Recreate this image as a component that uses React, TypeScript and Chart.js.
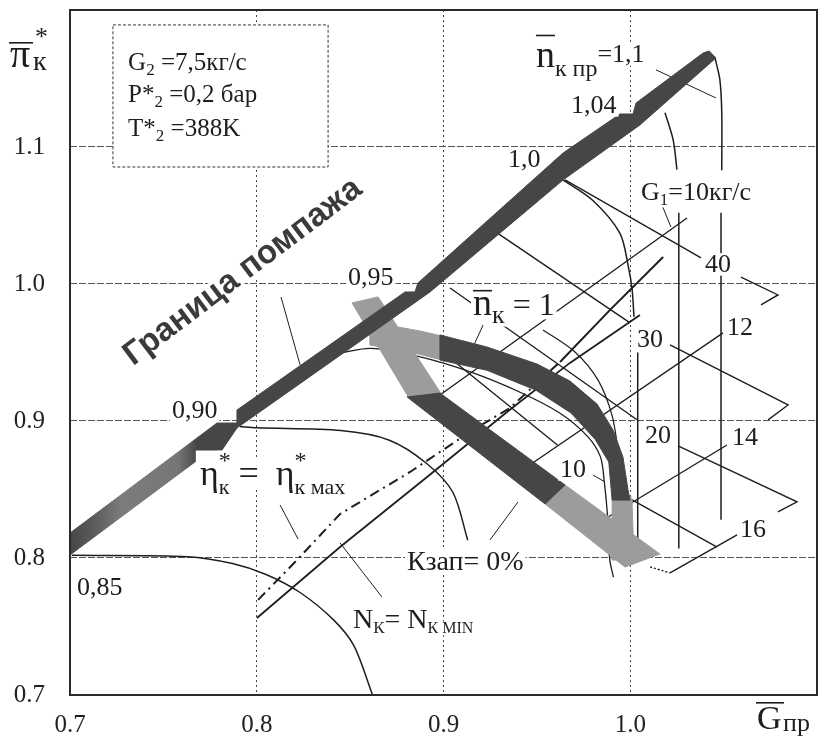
import React, { useEffect, useRef } from 'react';
import { Chart, registerables } from 'chart.js';

Chart.register(...registerables);

const SERIF = '"Liberation Serif", "Times New Roman", serif';
const SANS = '"Liberation Sans", Arial, sans-serif';
const INK = '#1e1e1e';
const DARK = '#464646';
const LIGHT = '#9c9c9c';

// ---------- axes ----------
const xTickValues = [0.7, 0.8, 0.9, 1.0];
const xTickLabels = ['0.7', '0.8', '0.9', '1.0'];
const yTickValues = [0.7, 0.8, 0.9, 1.0, 1.1];
const yTickLabels = ['0.7', '0.8', '0.9', '1.0', '1.1'];

type XY = [number, number | null];

// ---------- thick bands (closed outlines, [G, pi]) ----------
const surgeBand: XY[] = [
  [0.7, 0.8182], [0.7787, 0.8985], [0.7894, 0.8985], [0.7894, 0.908], [0.8794, 0.9942],
  [0.8847, 0.9942], [0.8863, 1.0007], [0.964, 1.0956], [0.9945, 1.1241], [1.0015, 1.1241],
  [1.0031, 1.1321], [1.039, 1.1686], [1.0422, 1.1701], [1.0459, 1.165], [1.0052, 1.1161],
  [0.964, 1.0759], [0.8928, 0.9942], [0.7894, 0.8949], [0.7814, 0.8788], [0.7669, 0.8788],
  [0.7669, 0.8701], [0.7, 0.8022],
];
const upperBandDark: XY[] = [
  [0.8981, 0.9628], [0.9233, 0.954], [0.9501, 0.9416], [0.9677, 0.9292], [0.9822, 0.9124],
  [0.9908, 0.8934], [0.9961, 0.8737], [0.9988, 0.8496], [0.9999, 0.8423], [0.9903, 0.8423],
  [0.9885, 0.8701], [0.9812, 0.8866], [0.9683, 0.9058], [0.9495, 0.9225], [0.9233, 0.9370],
  [0.8981, 0.9445],
];
const upperBandLight: XY[] = [
  [0.8606, 0.9723], [0.8874, 0.9657], [0.8992, 0.962], [0.8992, 0.9445], [0.8874, 0.9486], [0.8606, 0.9555],
];
const leftGreyBand: XY[] = [[0.8510, 0.9862], [0.8650, 0.9906], [0.8985, 0.9204], [0.8815, 0.9168]];
const lowerBandDark: XY[] = [[0.8981, 0.9204], [0.9651, 0.8533], [0.9544, 0.8394], [0.8805, 0.9175]];
const lowerBandTip: XY[] = [[0.9651, 0.8533], [1.0159, 0.8029], [0.9972, 0.7934], [0.9544, 0.8394]];
const rightGreyBand: XY[] = [[0.9903, 0.8438], [1.0009, 0.8438], [1.002, 0.7985], [0.9902, 0.7985]];

// ---------- speed lines ----------
const speed085: XY[] = [[0.701, 0.802], [0.763, 0.801], [0.787, 0.796], [0.805, 0.788], [0.823, 0.775], [0.841, 0.755], [0.852, 0.736], [0.862, 0.7]];
const speed090: XY[] = [[0.791, 0.896], [0.8, 0.895], [0.845, 0.893], [0.871, 0.886], [0.891, 0.869], [0.905, 0.848], [0.913, 0.813]];
const speed095: XY[] = [[0.846, 0.95], [0.861, 0.953], [0.887, 0.947], [0.914, 0.936], [0.941, 0.921], [0.962, 0.906], [0.977, 0.889], [0.984, 0.874], [0.986, 0.857], [0.988, 0.828], [0.989, 0.799], [0.991, 0.786]];
const speed100: XY[] = [[0.964, 1.076], [0.98, 1.061], [0.9945, 1.037], [0.999, 1.0125], [1.001, 0.996], [1.002, 0.976], [1.003, null], [1.004, 0.95], [1.004, 0.806]];
const speed104: XY[] = [[1.0186, 1.125], [1.023, 1.105], [1.025, 1.0835], [1.0255, null], [1.026, 1.052], [1.026, 0.807]];
const speed110: XY[] = [[1.0454, 1.165], [1.048, 1.149], [1.049, 1.125], [1.049, 1.083], [1.0488, null], [1.0486, 1.052], [1.0486, 0.828]];

// ---------- efficiency / power lines ----------
const etaMax: XY[] = [[0.8007, 0.7694], [0.8216, 0.7986], [0.8446, 0.8321], [0.8821, 0.8628], [0.9158, 0.8935], [0.9356, 0.9095], [0.9624, 0.9431], [0.9892, 0.9811], [1.0176, 1.0197]];
const nkMin: XY[] = [[0.8001, 0.7562], [0.8446, 0.808], [0.8912, 0.8591], [0.934, 0.9066], [0.9677, 0.9424], [1.0052, 0.9774]];

// ---------- G1 grid lines ----------
const g40: XY[] = [[0.9651, 1.076], [1.0379, 1.019]];
const g40Tail: XY[] = [[1.0593, 1.0051], [1.0791, 0.992], [1.07, 0.9847]];
const g30: XY[] = [[0.9287, 1.0373], [0.9999, 0.9716]];
const g30Tail: XY[] = [[1.0213, 0.9555], [1.0845, 0.9117], [1.0738, 0.9008]];
const g20: XY[] = [[0.9035, 0.9971], [1.0036, 0.9009]];
const g20Tail: XY[] = [[1.0256, 0.8818], [1.0893, 0.841], [1.0791, 0.8337]];
const g10: XY[] = [[0.898, 0.952], [0.961, 0.8825]];
const g10Tail: XY[] = [[1.001, 0.8424], [1.0465, 0.808]];
const b10: XY[] = [[0.8981, 0.919], [1.0304, 1.0482]];
const b12: XY[] = [[0.9485, 0.8701], [1.0497, 0.9643]];
const b14: XY[] = [[0.9811, 0.8241], [1.0518, 0.8825]];
const b16: XY[] = [[1.0213, 0.7891], [1.0572, 0.8168]];
const tipDots: XY[] = [[1.0106, 0.7935], [1.0213, 0.7891]];
const arcC: XY[] = [[0.9533, 0.9665], [0.9704, 0.9504], [0.9827, 0.93], [0.9902, 0.9044], [0.9935, 0.8789]];

// ---------- leaders ----------
const leaderSurge: XY[] = [[0.813, 0.9905], [0.8232, 0.941]];
const leaderEta: XY[] = [[0.8125, 0.8387], [0.8221, 0.8139]];
const leaderNk: XY[] = [[0.8446, 0.811], [0.867, 0.7716]];
const leaderKzap: XY[] = [[0.9249, 0.8132], [0.9399, 0.8409]];
const leaderN1: XY[] = [[0.9212, 0.97], [0.9158, 0.954]];
const leaderG1: XY[] = [[1.0165, 1.0592], [1.0218, 1.0416]];
const leader10: XY[] = [[0.98, 0.8606], [0.9865, 0.8555]];
const leaderN11: XY[] = [[1.0138, 1.1563], [1.0459, 1.1358]];

// ---------- text ----------
type Part = { t: string; s: number; dy?: number; dx?: number; over?: number; noAdv?: boolean };
type Label = { x: number; y: number; parts: Part[]; bg?: boolean };

const labels: Label[] = [
  { x: 0.7037, y: 0.773, parts: [{ t: '0,85', s: 26 }] },
  { x: 0.7546, y: 0.9022, parts: [{ t: '0,90', s: 26 }] },
  { x: 0.8489, y: 0.9993, parts: [{ t: '0,95', s: 26 }] },
  { x: 0.9345, y: 1.0854, parts: [{ t: '1,0', s: 26 }] },
  { x: 0.9683, y: 1.1248, parts: [{ t: '1,04', s: 26 }] },
  { x: 0.9495, y: 1.1584, parts: [{ t: 'n', s: 38, over: 0.85 }, { t: 'к пр', s: 24, dy: 9 }, { t: '=1,1', s: 26, dy: -5 }] },
  { x: 0.9158, y: 0.9774, parts: [{ t: 'n', s: 38, over: 0.66 }, { t: 'к', s: 26, dy: 8 }, { t: ' = 1', s: 32 }] },
  { x: 1.0058, y: 1.0613, parts: [{ t: 'G', s: 26 }, { t: '1', s: 17, dy: 5 }, { t: '=10кг/с', s: 26 }] },
  { x: 1.04, y: 1.0088, parts: [{ t: '40', s: 26 }] },
  { x: 1.0036, y: 0.954, parts: [{ t: '30', s: 26 }] },
  { x: 1.0518, y: 0.9628, parts: [{ t: '12', s: 26 }] },
  { x: 1.0079, y: 0.8839, parts: [{ t: '20', s: 26 }] },
  { x: 1.0545, y: 0.8825, parts: [{ t: '14', s: 26 }] },
  { x: 0.9624, y: 0.8591, parts: [{ t: '10', s: 26 }] },
  { x: 1.0588, y: 0.8153, parts: [{ t: '16', s: 26 }] },
  { x: 0.8805, y: 0.7912, parts: [{ t: 'Кзап= 0%', s: 28 }] },
  { x: 0.8515, y: 0.7489, parts: [{ t: 'N', s: 28 }, { t: 'К', s: 17, dy: 5 }, { t: '= N', s: 28 }, { t: 'К MIN', s: 16, dy: 5 }] },
  {
    x: 0.7696, y: 0.8533, parts: [
      { t: 'η', s: 36 }, { t: '*', s: 24, dy: -17, noAdv: true }, { t: 'к', s: 22, dy: 9 },
      { t: ' = ', s: 36 }, { t: 'η', s: 36, dx: 8 }, { t: '*', s: 24, dy: -17, noAdv: true }, { t: 'к мах', s: 22, dy: 9 },
    ],
  },
];
const infoBox = { x0: 0.723, y0: 1.1891, x1: 0.8382, y1: 1.0854 };
const infoLines: Label[] = [
  { x: 0.7311, y: 1.1562, bg: false, parts: [{ t: 'G', s: 25 }, { t: '2', s: 17, dy: 5 }, { t: ' =7,5кг/с', s: 25 }] },
  { x: 0.7311, y: 1.1325, bg: false, parts: [{ t: 'P*', s: 25 }, { t: '2', s: 17, dy: 5 }, { t: ' =0,2 бар', s: 25 }] },
  { x: 0.7311, y: 1.108, bg: false, parts: [{ t: 'T*', s: 25 }, { t: '2', s: 17, dy: 5 }, { t: ' =388K', s: 25 }] },
];
const surgeTitle = { x: 0.7926, y: 1.0088, text: 'Граница помпажа', angle: -37 };
// lighter, speckled-looking stretch of the surge band (in G units)
const surgeLightStops: [number, string][] = [
  [0.7, DARK], [0.712, '#5a5a5a'], [0.728, '#7c7c7c'], [0.758, '#767676'], [0.768, DARK], [1.1, DARK],
];

// ---------- helpers ----------
const toPts = (a: XY[]) => a.map(([x, y]) => ({ x, y }));

function poly(a: XY[], color: any) {
  return {
    data: toPts([...a, a[0]]), showLine: true, fill: 'shape', backgroundColor: color,
    borderColor: color, borderWidth: 1, pointRadius: 0, tension: 0,
  };
}
function line(a: XY[], extra: any = {}) {
  return {
    data: toPts(a), showLine: true, fill: false, borderColor: INK, borderWidth: 1.4,
    pointRadius: 0, tension: 0, spanGaps: false, ...extra,
  };
}
function surgeFill(c: any) {
  const chart = c.chart;
  const area = chart.chartArea;
  if (!area) return DARK;
  const sx = chart.scales.x;
  const x0 = sx.getPixelForValue(0.7);
  const x1 = sx.getPixelForValue(1.1);
  const g = chart.ctx.createLinearGradient(x0, 0, x1, 0);
  for (const [v, col] of surgeLightStops) {
    const f = Math.min(1, Math.max(0, (v - 0.7) / 0.4));
    g.addColorStop(f, col);
  }
  return g;
}

function drawLabel(ctx: CanvasRenderingContext2D, px: number, py: number, parts: Part[], bg: boolean) {
  let cx = px;
  const items: { p: Part; bx: number; by: number; w: number }[] = [];
  for (const p of parts) {
    ctx.font = `${p.s}px ${SERIF}`;
    const w = ctx.measureText(p.t).width;
    const bx = cx + (p.dx || 0);
    const by = py + (p.dy || 0);
    items.push({ p, bx, by, w });
    if (!p.noAdv) cx = bx + w;
  }
  if (bg) {
    ctx.fillStyle = '#fff';
    for (const it of items) ctx.fillRect(it.bx - 2, it.by - it.p.s * 0.72, it.w + 4, it.p.s * 0.86);
  }
  ctx.fillStyle = INK;
  ctx.textAlign = 'left';
  ctx.textBaseline = 'alphabetic';
  for (const it of items) {
    ctx.font = `${it.p.s}px ${SERIF}`;
    ctx.fillText(it.p.t, it.bx, it.by);
    if (it.p.over) ctx.fillRect(it.bx, it.by - it.p.s * it.p.over, it.w, 1.6);
  }
}

const annotPlugin = {
  id: 'annot',
  afterDatasetsDraw(chart: any) {
    const { ctx, chartArea, scales } = chart;
    const X = (v: number) => scales.x.getPixelForValue(v);
    const Y = (v: number) => scales.y.getPixelForValue(v);
    ctx.save();
    const bx0 = X(infoBox.x0), by0 = Y(infoBox.y0), bx1 = X(infoBox.x1), by1 = Y(infoBox.y1);
    ctx.fillStyle = '#fff';
    ctx.fillRect(bx0, by0, bx1 - bx0, by1 - by0);
    ctx.setLineDash([3, 2]);
    ctx.strokeStyle = '#333';
    ctx.lineWidth = 1;
    ctx.strokeRect(bx0, by0, bx1 - bx0, by1 - by0);
    ctx.setLineDash([]);
    for (const l of infoLines) drawLabel(ctx, X(l.x), Y(l.y), l.parts, false);
    for (const l of labels) drawLabel(ctx, X(l.x), Y(l.y), l.parts, l.bg !== false);
    ctx.translate(X(surgeTitle.x), Y(surgeTitle.y));
    ctx.rotate((surgeTitle.angle * Math.PI) / 180);
    ctx.font = `bold 33px ${SANS}`;
    ctx.textAlign = 'center';
    ctx.textBaseline = 'middle';
    ctx.lineJoin = 'round';
    ctx.lineWidth = 7;
    ctx.strokeStyle = '#fff';
    ctx.strokeText(surgeTitle.text, 0, 0);
    ctx.fillStyle = '#3a3a3a';
    ctx.fillText(surgeTitle.text, 0, 0);
    ctx.restore();
    ctx.save();
    ctx.strokeStyle = '#2a2a2a';
    ctx.lineWidth = 2;
    ctx.strokeRect(chartArea.left, chartArea.top, chartArea.right - chartArea.left, chartArea.bottom - chartArea.top);
    ctx.restore();
  },
  afterDraw(chart: any) {
    const { ctx } = chart;
    ctx.save();
    ctx.fillStyle = INK;
    ctx.textAlign = 'left';
    ctx.textBaseline = 'alphabetic';
    ctx.font = `40px ${SERIF}`;
    ctx.fillText('π', 10, 67);
    ctx.fillRect(9, 42, 24, 1.6);
    ctx.font = `26px ${SERIF}`;
    ctx.fillText('*', 35, 45);
    ctx.font = `28px ${SERIF}`;
    ctx.fillText('к', 33, 70);
    ctx.font = `34px ${SERIF}`;
    ctx.fillText('G', 757, 729);
    ctx.fillRect(756, 702, 28, 1.6);
    ctx.font = `26px ${SERIF}`;
    ctx.fillText('пр', 783, 731);
    ctx.restore();
  },
};

export default function App() {
  const ref = useRef<HTMLCanvasElement>(null);
  useEffect(() => {
    const datasets: any[] = [
      poly(surgeBand, surgeFill),
      poly(upperBandDark, DARK),
      poly(lowerBandDark, DARK),
      poly(upperBandLight, LIGHT),
      poly(rightGreyBand, LIGHT),
      poly(lowerBandTip, LIGHT),
      poly(leftGreyBand, LIGHT),
      line(speed085, { tension: 0.3, borderWidth: 1.5 }),
      line(speed090, { tension: 0.3, borderWidth: 1.5 }),
      line(speed095, { tension: 0.3, borderWidth: 1.3 }),
      line(speed100, { tension: 0.3, borderWidth: 1.5 }),
      line(speed104, { tension: 0.3, borderWidth: 1.5 }),
      line(speed110, { tension: 0.3, borderWidth: 1.5 }),
      line(etaMax, {
        borderWidth: 2, borderDash: [10, 5, 2, 5],
        segment: { borderDash: (c: any) => (c.p0DataIndex >= 6 ? [] : undefined) },
      }),
      line(nkMin, { borderWidth: 1.8 }),
      line(g40), line(g40Tail), line(g30), line(g30Tail), line(g20), line(g20Tail),
      line(g10), line(g10Tail), line(b10), line(b12), line(b14), line(b16),
      line(tipDots, { borderDash: [2, 2] }),
      line(arcC, { tension: 0.3, borderWidth: 1.2 }),
      line(leaderSurge, { borderWidth: 1 }), line(leaderEta, { borderWidth: 1 }),
      line(leaderNk, { borderWidth: 1 }), line(leaderKzap, { borderWidth: 1 }),
      line(leaderN1, { borderWidth: 1 }), line(leaderG1, { borderWidth: 1 }),
      line(leader10, { borderWidth: 1 }), line(leaderN11, { borderWidth: 1 }),
    ];
    const chart = new Chart(ref.current as HTMLCanvasElement, {
      type: 'scatter',
      data: { datasets },
      options: {
        animation: false,
        responsive: false,
        events: [],
        layout: { padding: { left: 8, right: 1, top: 10, bottom: 0 } },
        plugins: { legend: { display: false }, tooltip: { enabled: false } },
        scales: {
          x: {
            type: 'linear', min: 0.7, max: 1.1,
            afterBuildTicks: (s: any) => { s.ticks = xTickValues.map((v) => ({ value: v })); },
            afterFit: (s: any) => { s.height = 49; s.paddingLeft = 0; s.paddingRight = 0; },
            ticks: {
              callback: (_v: any, i: number) => xTickLabels[i],
              font: { family: SERIF, size: 25 }, color: '#222', padding: 15, maxRotation: 0, autoSkip: false,
            },
            grid: {
              drawTicks: false, lineWidth: 1,
              color: (c: any) => (c.tick && c.tick.value < 0.75 ? 'rgba(0,0,0,0)' : '#444'),
            },
            border: { display: false, dash: [2, 3] },
          },
          y: {
            type: 'linear', min: 0.7, max: 1.2,
            afterBuildTicks: (s: any) => { s.ticks = yTickValues.map((v) => ({ value: v })); },
            afterFit: (s: any) => { s.width = 62; s.paddingTop = 0; s.paddingBottom = 0; },
            ticks: {
              callback: (_v: any, i: number) => yTickLabels[i],
              font: { family: SERIF, size: 25 }, color: '#222', padding: 25, autoSkip: false,
            },
            grid: {
              drawTicks: false, lineWidth: 1,
              color: (c: any) => (c.tick && c.tick.value < 0.75 ? 'rgba(0,0,0,0)' : '#555'),
            },
            border: { display: false, dash: [7, 2] },
          },
        },
      } as any,
      plugins: [annotPlugin],
    });
    return () => chart.destroy();
  }, []);
  return (
    <div style={{ position: 'absolute', left: 0, top: 0, width: 818, height: 744, background: '#fff' }}>
      <canvas ref={ref} width={818} height={744} style={{ display: 'block' }} />
    </div>
  );
}
